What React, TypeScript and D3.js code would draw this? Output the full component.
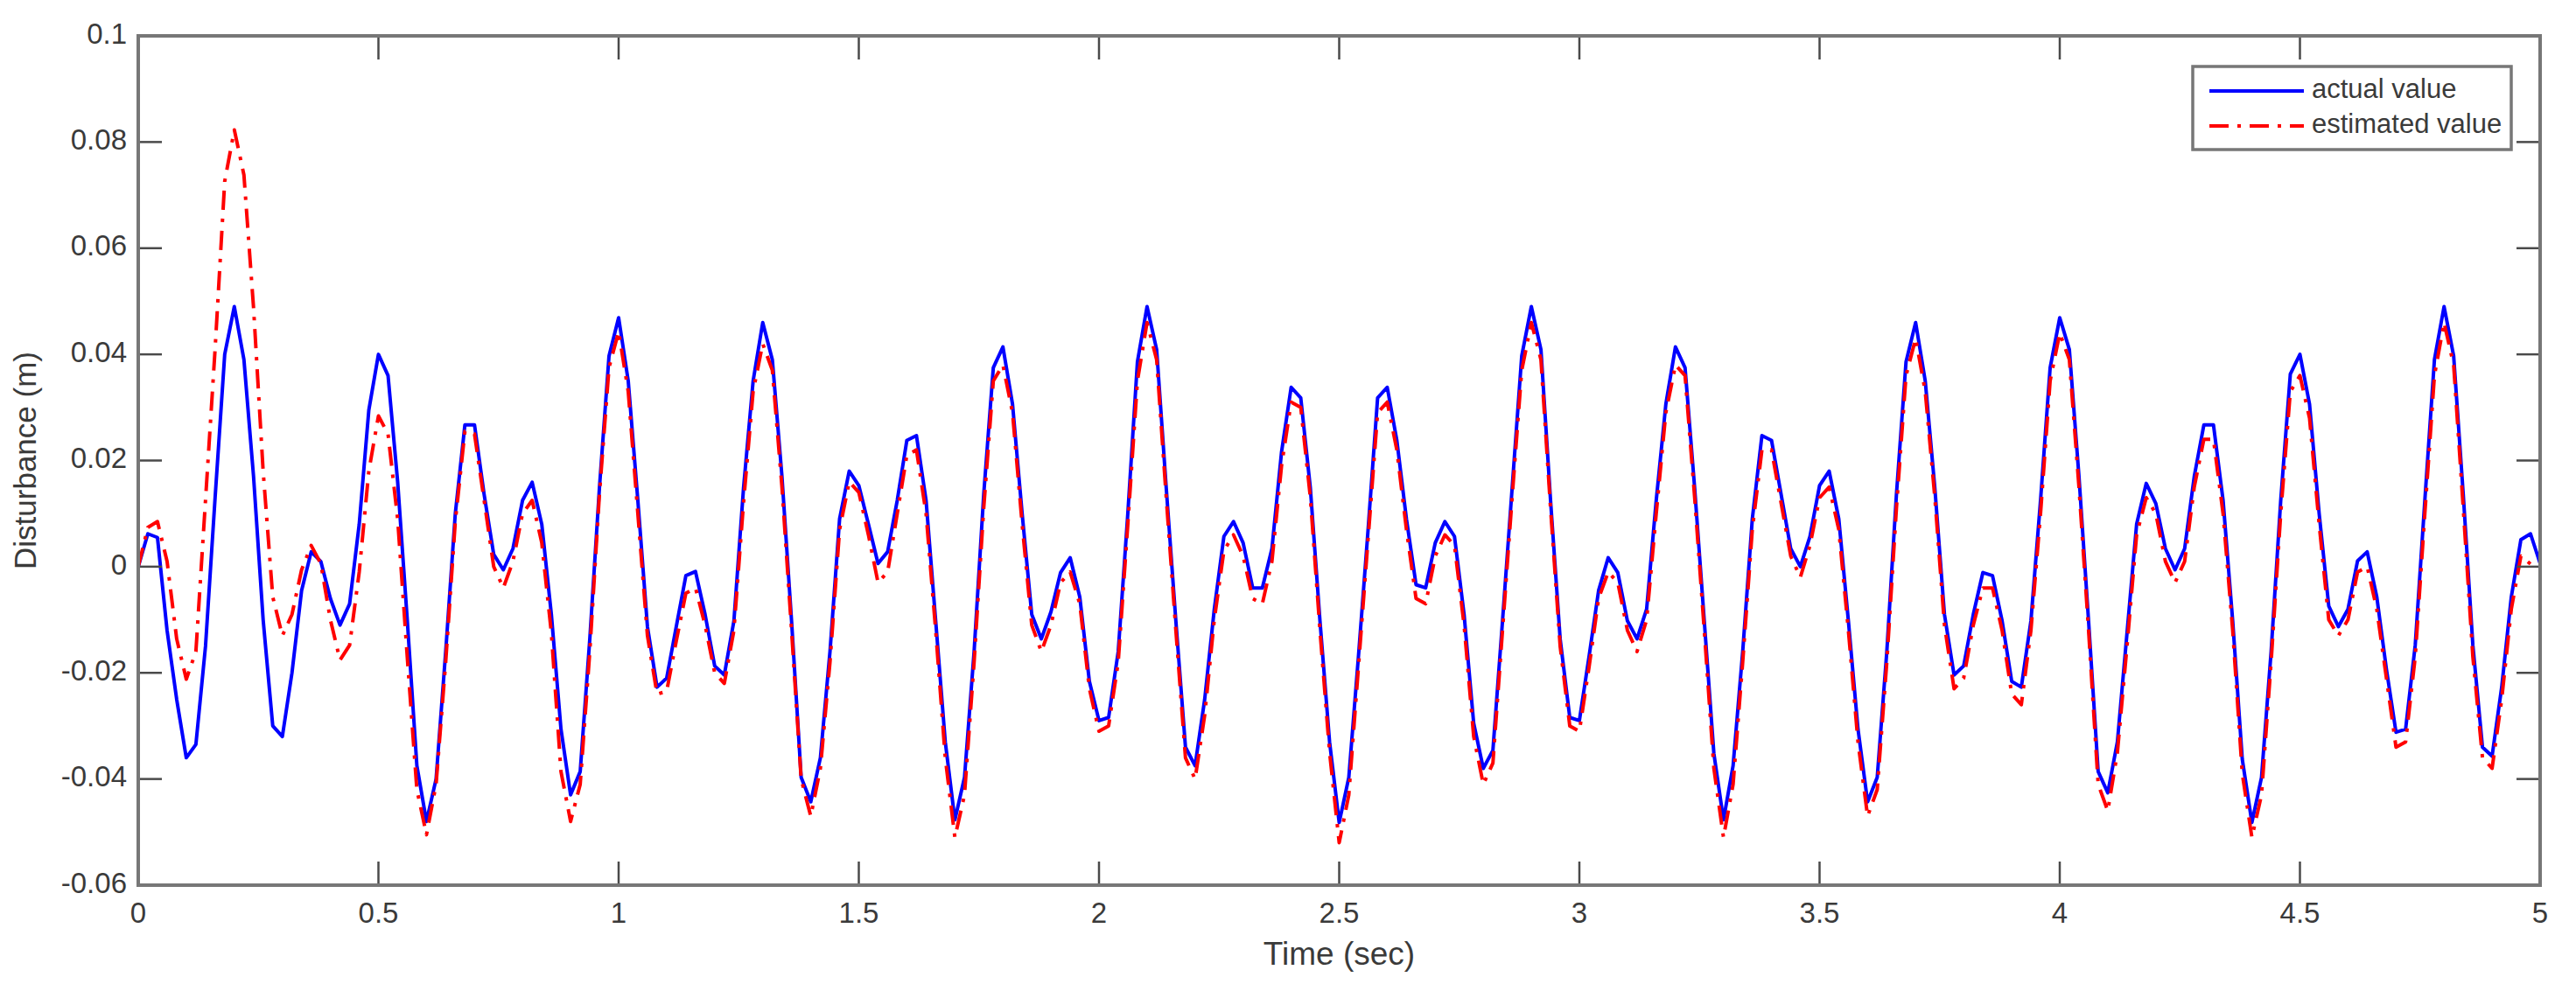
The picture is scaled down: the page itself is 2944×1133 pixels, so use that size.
import * as d3 from 'd3';

// sampled every 0.02 s from 0 to 5 s (10 samples per row = 0.2 s)
const dt = 0.02;

const actualValue = [
  0, 0.0062, 0.0055, -0.012, -0.025, -0.036, -0.0335, -0.015, 0.013, 0.04,
  0.049, 0.039, 0.017, -0.01, -0.03, -0.032, -0.02, -0.0045, 0.0028, 0.001,
  -0.006, -0.011, -0.007, 0.008, 0.0295, 0.04, 0.036, 0.016, -0.01, -0.0375,
  -0.048, -0.04, -0.016, 0.01, 0.0267, 0.0267, 0.0136, 0.0023, -0.0006, 0.0034,
  0.0125, 0.0159, 0.008, -0.009, -0.0306, -0.043, -0.0386, -0.0136, 0.0148, 0.0397,
  0.0469, 0.035, 0.0125, -0.0113, -0.0227, -0.021, -0.0113, -0.0017, -0.0009, -0.009,
  -0.0187, -0.0204, -0.0102, 0.0148, 0.035, 0.046, 0.039, 0.017, -0.0102, -0.0397,
  -0.0443, -0.036, -0.016, 0.009, 0.018, 0.0153, 0.008, 0.0006, 0.0028, 0.0125,
  0.0238, 0.0247, 0.0125, -0.0102, -0.033, -0.0477, -0.0397, -0.016, 0.0136, 0.0375,
  0.0414, 0.0306, 0.01, -0.009, -0.0136, -0.0085, -0.0011, 0.0017, -0.0057, -0.0216,
  -0.029, -0.0284, -0.016, 0.01, 0.0386, 0.049, 0.0409, 0.0148, -0.0102, -0.034,
  -0.0375, -0.025, -0.008, 0.0057, 0.0085, 0.0045, -0.004, -0.004, 0.0034, 0.0216,
  0.0338, 0.0318, 0.0148, -0.0102, -0.033, -0.0482, -0.0397, -0.017, 0.0068, 0.0318,
  0.0338, 0.0238, 0.009, -0.0034, -0.004, 0.0045, 0.0085, 0.0057, -0.009, -0.0295,
  -0.038, -0.0346, -0.0102, 0.0148, 0.0397, 0.049, 0.0409, 0.0125, -0.0136, -0.0284,
  -0.029, -0.017, -0.0045, 0.0017, -0.0011, -0.0102, -0.0136, -0.008, 0.0125, 0.0306,
  0.0414, 0.0375, 0.0148, -0.0102, -0.0352, -0.0477, -0.0375, -0.016, 0.009, 0.0247,
  0.0238, 0.0136, 0.0034, 0, 0.0057, 0.0153, 0.018, 0.009, -0.0102, -0.0306,
  -0.0443, -0.0397, -0.016, 0.0136, 0.0386, 0.046, 0.035, 0.0148, -0.009, -0.0204,
  -0.0187, -0.009, -0.0011, -0.0017, -0.0102, -0.0216, -0.0227, -0.0102, 0.0125, 0.0375,
  0.0469, 0.0409, 0.017, -0.0102, -0.0386, -0.0426, -0.033, -0.0125, 0.008, 0.0157,
  0.0119, 0.0034, -0.0006, 0.0034, 0.017, 0.0267, 0.0267, 0.0125, -0.0102, -0.0363,
  -0.0482, -0.0397, -0.016, 0.0125, 0.0363, 0.04, 0.0306, 0.01, -0.0074, -0.0113,
  -0.008, 0.0011, 0.0028, -0.0057, -0.0193, -0.0312, -0.0306, -0.0148, 0.0125, 0.039,
  0.049, 0.0397, 0.0136, -0.0148, -0.034, -0.0357, -0.0227, -0.0057, 0.0051, 0.0062,
  0.0006,
];

const estimatedValue = [
  0, 0.0074, 0.0085, 0.001, -0.0136, -0.0212, -0.016, 0.0125, 0.041, 0.0726,
  0.0823, 0.0738, 0.0488, 0.018, -0.0057, -0.013, -0.009, -0.0006, 0.004, 0.0006,
  -0.01, -0.0176, -0.0148, -0.001, 0.018, 0.0284, 0.025, 0.009, -0.017, -0.042,
  -0.0505, -0.041, -0.018, 0.0085, 0.0255, 0.025, 0.0125, 0, -0.004, 0.001,
  0.01, 0.0125, 0.0045, -0.0125, -0.0386, -0.048, -0.041, -0.016, 0.0136, 0.0375,
  0.0443, 0.033, 0.01, -0.013, -0.024, -0.0235, -0.014, -0.005, -0.004, -0.011,
  -0.02, -0.022, -0.012, 0.012, 0.033, 0.042, 0.037, 0.015, -0.012, -0.04,
  -0.047, -0.038, -0.018, 0.007, 0.016, 0.014, 0.006, -0.003, -0.001, 0.01,
  0.021, 0.022, 0.01, -0.012, -0.036, -0.051, -0.043, -0.018, 0.011, 0.035,
  0.038, 0.029, 0.008, -0.011, -0.016, -0.011, -0.003, -0.001, -0.007, -0.023,
  -0.031, -0.03, -0.018, 0.008, 0.035, 0.046, 0.039, 0.013, -0.012, -0.036,
  -0.04, -0.028, -0.01, 0.003, 0.006, 0.002, -0.006, -0.007, 0.001, 0.019,
  0.031, 0.03, 0.013, -0.012, -0.035, -0.052, -0.043, -0.019, 0.005, 0.029,
  0.031, 0.022, 0.007, -0.006, -0.007, 0.002, 0.006, 0.004, -0.011, -0.032,
  -0.041, -0.037, -0.012, 0.013, 0.037, 0.046, 0.039, 0.011, -0.015, -0.03,
  -0.031, -0.019, -0.006, -0.001, -0.003, -0.012, -0.016, -0.01, 0.01, 0.029,
  0.038, 0.036, 0.013, -0.012, -0.038, -0.051, -0.041, -0.018, 0.007, 0.022,
  0.022, 0.012, 0.002, -0.002, 0.004, 0.013, 0.015, 0.007, -0.012, -0.033,
  -0.047, -0.042, -0.018, 0.011, 0.036, 0.043, 0.033, 0.013, -0.011, -0.023,
  -0.021, -0.011, -0.004, -0.004, -0.012, -0.024, -0.026, -0.012, 0.01, 0.035,
  0.044, 0.039, 0.015, -0.012, -0.041, -0.046, -0.035, -0.015, 0.006, 0.013,
  0.01, 0.001, -0.003, 0.001, 0.015, 0.024, 0.024, 0.01, -0.012, -0.039,
  -0.051, -0.043, -0.018, 0.01, 0.033, 0.036, 0.028, 0.008, -0.01, -0.013,
  -0.01, -0.001, 0, -0.008, -0.021, -0.034, -0.033, -0.017, 0.01, 0.036,
  0.046, 0.038, 0.011, -0.017, -0.036, -0.038, -0.025, -0.008, 0.002, 0.0005,
  0,
];

const xTicks = [0, 0.5, 1, 1.5, 2, 2.5, 3, 3.5, 4, 4.5, 5];
const yTicks = [-0.06, -0.04, -0.02, 0, 0.02, 0.04, 0.06, 0.08, 0.1];

const series = [
  { name: 'actual value', values: actualValue, color: '#0000ff', dash: null },
  { name: 'estimated value', values: estimatedValue, color: '#ff0000', dash: '22,10,4,10' },
];

const W = 2944;
const H = 1133;
const margin = { left: 158, right: 41, top: 41, bottom: 121 };
const font = '"Liberation Sans", Arial, Helvetica, sans-serif';
const boxColor = '#777777';
const tickColor = '#4a4a4a';
const textColor = '#3a3a3a';

export default function App() {
  const x = d3.scaleLinear().domain([0, 5]).range([margin.left, W - margin.right]);
  const y = d3.scaleLinear().domain([-0.06, 0.1]).range([H - margin.bottom, margin.top]);
  const [x0, x1] = x.range();
  const [y0, y1] = y.range();

  const line = d3
    .line<number>()
    .x((_, i) => x(i * dt))
    .y((d) => y(d));

  const tickLen = 27;
  const fmt = (v: number) => (v === 0 ? '0' : String(+v.toFixed(2)));

  return (
    <svg
      width={W}
      height={H}
      style={{ position: 'absolute', left: 0, top: 0, background: '#fff' }}
      fontFamily={font}
    >
      <rect x={0} y={0} width={W} height={H} fill="#fff" />
      <defs>
        <clipPath id="plot">
          <rect x={x0} y={y1} width={x1 - x0} height={y0 - y1} />
        </clipPath>
      </defs>

      <g clipPath="url(#plot)">
        {series.map((s) => (
          <path
            key={s.name}
            d={line(s.values) || ''}
            fill="none"
            stroke={s.color}
            strokeWidth={4}
            strokeDasharray={s.dash || undefined}
            strokeLinejoin="round"
          />
        ))}
      </g>

      {/* inward ticks on all four sides, MATLAB style */}
      {xTicks.map((t) => (
        <g key={'x' + t}>
          <line x1={x(t)} x2={x(t)} y1={y0} y2={y0 - tickLen} stroke={tickColor} strokeWidth={2.5} />
          <line x1={x(t)} x2={x(t)} y1={y1} y2={y1 + tickLen} stroke={tickColor} strokeWidth={2.5} />
          <text x={x(t)} y={1046} textAnchor="middle" dominantBaseline="middle" fontSize={33} fill={textColor}>
            {fmt(t)}
          </text>
        </g>
      ))}
      {yTicks.map((t) => (
        <g key={'y' + t}>
          <line x1={x0} x2={x0 + tickLen} y1={y(t)} y2={y(t)} stroke={tickColor} strokeWidth={2.5} />
          <line x1={x1} x2={x1 - tickLen} y1={y(t)} y2={y(t)} stroke={tickColor} strokeWidth={2.5} />
          <text x={145} y={y(t)} textAnchor="end" dominantBaseline="middle" fontSize={33} fill={textColor}>
            {fmt(t)}
          </text>
        </g>
      ))}
      <rect x={x0} y={y1} width={x1 - x0} height={y0 - y1} fill="none" stroke={boxColor} strokeWidth={4} />

      <text x={(x0 + x1) / 2} y={1093} textAnchor="middle" dominantBaseline="middle" fontSize={37} fill={textColor}>
        Time (sec)
      </text>
      <text
        transform={`translate(32,${(y0 + y1) / 2}) rotate(-90)`}
        textAnchor="middle"
        dominantBaseline="middle"
        fontSize={35}
        fill={textColor}
      >
        Disturbance (m)
      </text>

      {/* legend */}
      <g>
        <rect x={2506} y={76} width={364} height={95} fill="#fff" stroke={boxColor} strokeWidth={3.5} />
        {series.map((s, i) => (
          <g key={'lg' + s.name} transform={`translate(2525,${104 + i * 40})`}>
            <line x1={0} x2={108} y1={0} y2={0} stroke={s.color} strokeWidth={4} strokeDasharray={s.dash || undefined} />
            <text x={117} y={0} dominantBaseline="middle" fontSize={31} fill={textColor}>
              {s.name}
            </text>
          </g>
        ))}
      </g>
    </svg>
  );
}
